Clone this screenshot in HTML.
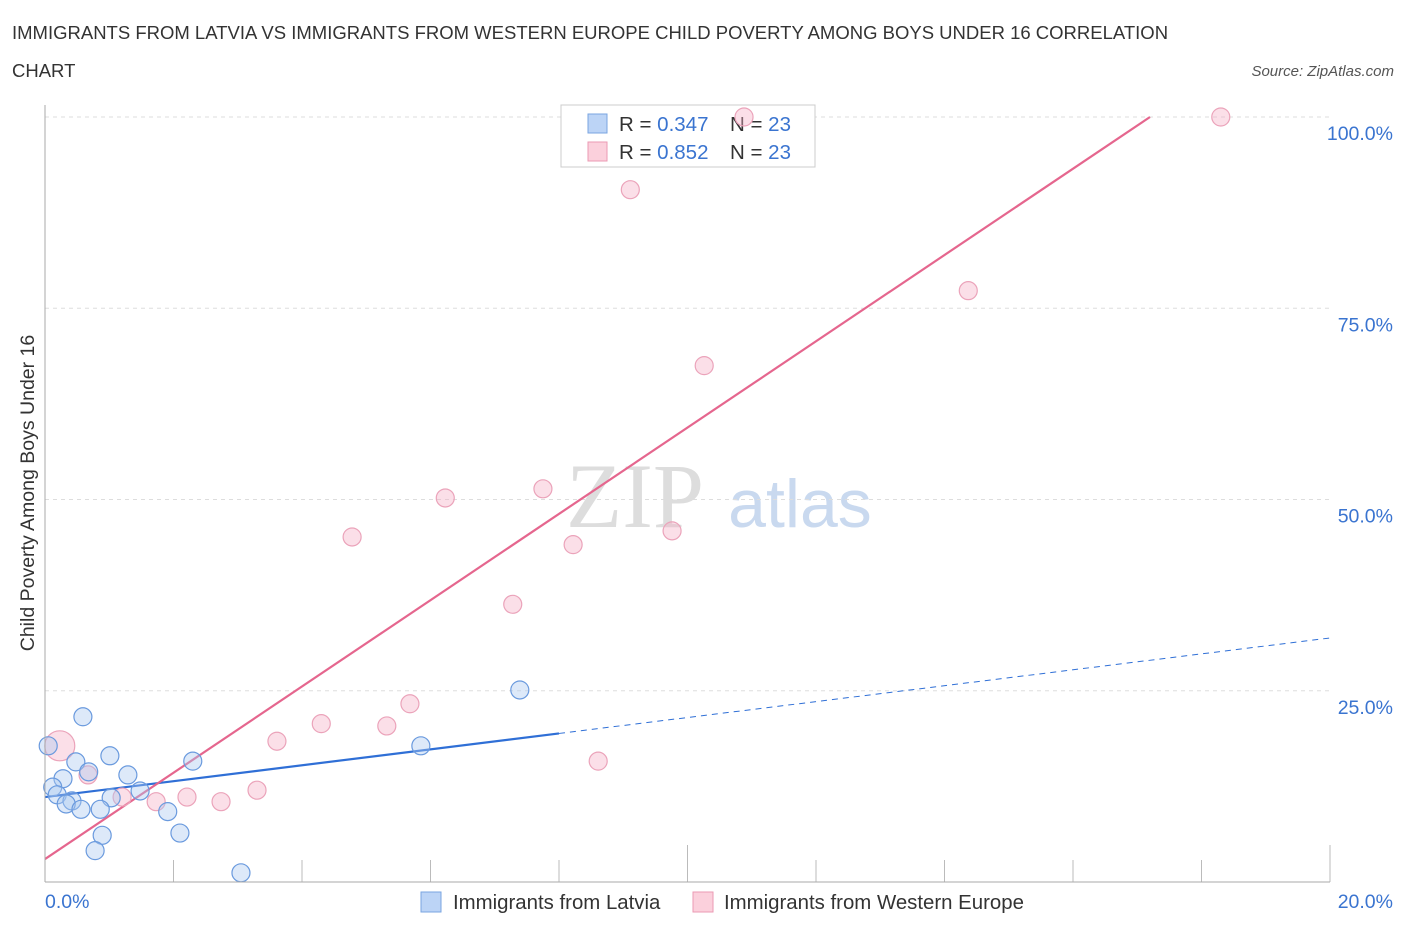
<!DOCTYPE html>
<html><head><meta charset="utf-8"><style>
body{margin:0;background:#fff;font-family:"Liberation Sans",sans-serif;}
</style></head><body>
<svg width="1406" height="930" xmlns="http://www.w3.org/2000/svg" id="svg" font-family="Liberation Sans, sans-serif">
<text x="12" y="39" font-size="18.5" fill="#333">IMMIGRANTS FROM LATVIA VS IMMIGRANTS FROM WESTERN EUROPE CHILD POVERTY AMONG BOYS UNDER 16 CORRELATION</text>
<text x="12" y="77" font-size="18.5" fill="#333">CHART</text>
<text x="1394" y="76" font-size="15" fill="#555" font-style="italic" text-anchor="end">Source: ZipAtlas.com</text>
<text x="635" y="527" font-size="92" fill="#ddd" font-family="Liberation Serif, serif" text-anchor="middle">ZIP</text>
<text x="800" y="527" font-size="68" fill="#c9d9ef" text-anchor="middle">atlas</text>
<text transform="translate(34,493) rotate(-90)" font-size="19.5" fill="#333" text-anchor="middle">Child Poverty Among Boys Under 16</text>
<g id="grid"></g><g id="ticks"></g>
<g>
<rect x="561" y="105" width="254" height="62" fill="#fff" stroke="#ccc"/>
<rect x="588" y="114" width="19" height="19" fill="#bcd4f6" stroke="#7aa5e0"/>
<rect x="588" y="142" width="19" height="19" fill="#fbd0dc" stroke="#eb9ab3"/>
<text x="619" y="131" font-size="20.5" fill="#333">R = <tspan fill="#3a74d0">0.347</tspan><tspan x="730">N = </tspan><tspan fill="#3a74d0">23</tspan></text>
<text x="619" y="159" font-size="20.5" fill="#333">R = <tspan fill="#3a74d0">0.852</tspan><tspan x="730">N = </tspan><tspan fill="#3a74d0">23</tspan></text>
</g>
<g id="lines"></g><g id="pts"></g>
<line x1="45" y1="105" x2="45" y2="882" stroke="#aaa"/>
<line x1="45" y1="882" x2="1330" y2="882" stroke="#aaa"/>
<text x="45" y="908" font-size="19.5" fill="#3a74d0">0.0%</text>
<text x="1393" y="908" font-size="19.5" fill="#3a74d0" text-anchor="end">20.0%</text>
<g>
<rect x="421" y="892" width="20" height="20" fill="#bcd4f6" stroke="#7aa5e0"/>
<text x="453" y="909" font-size="20.4" fill="#333">Immigrants from Latvia</text>
<rect x="693" y="892" width="20" height="20" fill="#fbd0dc" stroke="#eb9ab3"/>
<text x="724" y="909" font-size="20.4" fill="#333">Immigrants from Western Europe</text>
</g>
</svg>
<script>
const yTicks=[25,50,75,100];
const yTickLabels=["25.0%","50.0%","75.0%","100.0%"];
const xTicks=[0,2,4,6,8,10,12,14,16,18,20];
const blueX=[0.59,0.05,0.48,1.01,0.68,0.28,1.29,0.12,0.19,2.30,1.48,0.42,0.33,0.56,1.03,0.86,1.91,2.10,0.89,0.78,3.05,7.39,5.85];
const blueY=[21.6,17.8,15.7,16.5,14.4,13.5,14.0,12.4,11.4,15.8,11.9,10.6,10.2,9.5,11.0,9.5,9.2,6.4,6.1,4.1,1.2,25.1,17.8];
const pinkX=[0.23,0.67,1.20,1.73,2.21,2.74,3.30,3.61,4.30,5.32,5.68,8.61,7.28,8.22,9.76,4.78,6.23,7.75,10.26,14.37,9.11,10.88,18.30];
const pinkY=[17.8,14.0,11.1,10.5,11.1,10.5,12.0,18.4,20.7,20.4,23.3,15.8,36.3,44.1,45.9,45.1,50.2,51.4,67.5,77.3,90.5,100,100];
const pinkR=[15,9,9,9,9,9,9,9,9,9,9,9,9,9,9,9,9,9,9,9,9,9,9];
const blueTrend=[11.1,1.04];
const pinkTrend=[3.0,5.64];
const X=v=>45+v*64.25, Y=v=>882-v*7.65;
const NS="http://www.w3.org/2000/svg";
function mk(t,a,p){const e=document.createElementNS(NS,t);for(const k in a)e.setAttribute(k,a[k]);document.getElementById(p).appendChild(e);return e;}
yTicks.forEach((t,i)=>{
 const l=mk('line',{x1:45,x2:1330,y1:Y(t),y2:Y(t),stroke:'#ddd','stroke-dasharray':'4,4'},'grid');
 
 
 const tx=mk('text',{x:1393,y:Y(t)+23,'font-size':19.5,fill:'#3a74d0','text-anchor':'end'},'grid');
 tx.textContent=yTickLabels[i];
 
 
});
xTicks.forEach(t=>{
 const tall=(t===10||t===20);
 const l=mk('line',{x1:X(t),x2:X(t),y1:tall?845:860,y2:882,stroke:'#bbb'},'ticks');
 
 
});
let bl=mk('line',{x1:X(0),y1:Y(blueTrend[0]),x2:X(8),y2:Y(blueTrend[0]+8*blueTrend[1]),stroke:'#2f6fd6','stroke-width':2.2},'lines');


let bd=mk('line',{x1:X(8),y1:Y(blueTrend[0]+8*blueTrend[1]),x2:X(20),y2:Y(blueTrend[0]+20*blueTrend[1]),stroke:'#2f6fd6','stroke-width':1,'stroke-dasharray':'6,5'},'lines');


const pEnd=(100-pinkTrend[0])/pinkTrend[1];
let pl=mk('line',{x1:X(0),y1:Y(pinkTrend[0]),x2:X(pEnd),y2:Y(100),stroke:'#e5668e','stroke-width':2.2},'lines');


pinkX.forEach((x,i)=>{
 const c=mk('circle',{cx:X(x),cy:Y(pinkY[i]),r:pinkR[i],fill:'rgba(246,176,198,0.4)',stroke:'#eba3ba','stroke-width':1.2},'pts');
 
 
});
blueX.forEach((x,i)=>{
 const c=mk('circle',{cx:X(x),cy:Y(blueY[i]),r:9,fill:'rgba(170,200,240,0.4)',stroke:'#6a9ade','stroke-width':1.2},'pts');
 
 
});
</script>
</body></html>
